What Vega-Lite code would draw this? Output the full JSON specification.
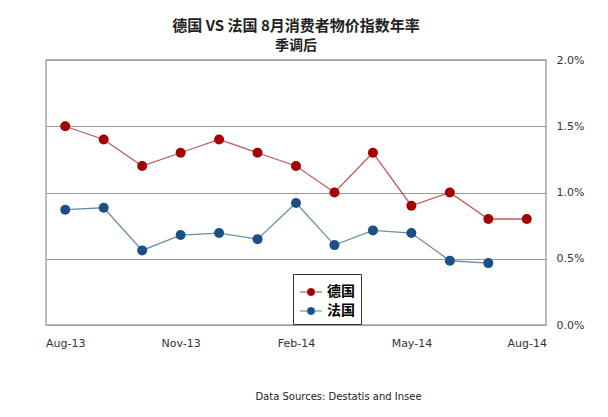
{
  "$schema": "https://vega.github.io/schema/vega-lite/v6.json",
  "width": 500,
  "height": 265,
  "padding": {"left": 45, "top": 19, "right": 5, "bottom": 5},
  "background": "white",
  "title": {
    "text": "德国 VS 法国 8月消费者物价指数年率",
    "subtitle": "季调后",
    "anchor": "middle",
    "font": "Noto Sans CJK SC",
    "fontSize": 15,
    "fontWeight": "bold",
    "color": "#222222",
    "subtitleFont": "Noto Sans CJK SC",
    "subtitleFontSize": 14,
    "subtitleFontWeight": "bold",
    "subtitleColor": "#222222",
    "subtitlePadding": 5,
    "offset": 1
  },
  "config": {
    "view": {"stroke": "#a8a8a8", "strokeWidth": 1.5},
    "axis": {"labelFont": "DejaVu Sans", "labelFontSize": 11, "labelColor": "#333333"}
  },
  "data": {
    "values": [
      {"month": "Aug-13", "country": "德国", "rate": 1.5},
      {"month": "Sep-13", "country": "德国", "rate": 1.4},
      {"month": "Oct-13", "country": "德国", "rate": 1.2},
      {"month": "Nov-13", "country": "德国", "rate": 1.3},
      {"month": "Dec-13", "country": "德国", "rate": 1.4},
      {"month": "Jan-14", "country": "德国", "rate": 1.3},
      {"month": "Feb-14", "country": "德国", "rate": 1.2},
      {"month": "Mar-14", "country": "德国", "rate": 1.0},
      {"month": "Apr-14", "country": "德国", "rate": 1.3},
      {"month": "May-14", "country": "德国", "rate": 0.9},
      {"month": "Jun-14", "country": "德国", "rate": 1.0},
      {"month": "Jul-14", "country": "德国", "rate": 0.8},
      {"month": "Aug-14", "country": "德国", "rate": 0.8},
      {"month": "Aug-13", "country": "法国", "rate": 0.87},
      {"month": "Sep-13", "country": "法国", "rate": 0.885},
      {"month": "Oct-13", "country": "法国", "rate": 0.563},
      {"month": "Nov-13", "country": "法国", "rate": 0.679},
      {"month": "Dec-13", "country": "法国", "rate": 0.694},
      {"month": "Jan-14", "country": "法国", "rate": 0.648},
      {"month": "Feb-14", "country": "法国", "rate": 0.921},
      {"month": "Mar-14", "country": "法国", "rate": 0.603},
      {"month": "Apr-14", "country": "法国", "rate": 0.714},
      {"month": "May-14", "country": "法国", "rate": 0.694},
      {"month": "Jun-14", "country": "法国", "rate": 0.485},
      {"month": "Jul-14", "country": "法国", "rate": 0.467}
    ]
  },
  "encoding": {
    "x": {
      "field": "month",
      "type": "ordinal",
      "sort": ["Aug-13","Sep-13","Oct-13","Nov-13","Dec-13","Jan-14","Feb-14","Mar-14","Apr-14","May-14","Jun-14","Jul-14","Aug-14"],
      "scale": {"type": "point", "padding": 0.5},
      "axis": {
        "title": "Data Sources: Destatis and Insee",
        "titleFont": "DejaVu Sans",
        "titleFontSize": 10,
        "titleFontWeight": "normal",
        "titleColor": "#222222",
        "titlePadding": 43,
        "titleX": 292,
        "titleAlign": "center",
        "labelAngle": 0,
        "labelPadding": 12,
        "ticks": false,
        "domain": false,
        "grid": false,
        "labelExpr": "indexof(['Aug-13','Nov-13','Feb-14','May-14','Aug-14'], datum.value) >= 0 ? datum.value : ''"
      }
    },
    "y": {
      "field": "rate",
      "type": "quantitative",
      "scale": {"domain": [0, 2]},
      "axis": {
        "orient": "right",
        "title": null,
        "values": [0, 0.5, 1, 1.5, 2],
        "labelExpr": "format(datum.value, '.1f') + '%'",
        "labelPadding": 10,
        "ticks": false,
        "domain": false,
        "grid": true,
        "gridColor": "#9a9a9a",
        "gridWidth": 1
      }
    },
    "color": {
      "field": "country",
      "type": "nominal",
      "scale": {"domain": ["德国", "法国"], "range": ["#a30000", "#1c4f86"]},
      "legend": {
        "title": null,
        "orient": "none",
        "legendX": 247,
        "legendY": 214,
        "fillColor": "white",
        "strokeColor": "#333333",
        "padding": 6,
        "labelFont": "Noto Sans CJK SC",
        "labelFontSize": 14,
        "labelFontWeight": "bold",
        "labelColor": "#000000",
        "symbolType": "M-1,0L1,0M-0.32,0A0.32,0.32,0,1,0,0.32,0A0.32,0.32,0,1,0,-0.32,0Z",
        "symbolSize": 480,
        "symbolStrokeWidth": 1.2,
        "symbolOpacity": 1,
        "rowPadding": 0,
        "labelOffset": 4,
        "encode": {
          "symbols": {
            "update": {
              "fill": {"scale": "color", "field": "value"},
              "stroke": {"scale": "color", "field": "value"},
              "opacity": {"value": 1},
              "fillOpacity": {"value": 1},
              "strokeOpacity": {"value": 0.75}
            }
          }
        }
      }
    }
  },
  "layer": [
    {"mark": {"type": "line", "strokeWidth": 1.3, "opacity": 0.65}},
    {"mark": {"type": "point", "filled": true, "size": 100, "opacity": 1}}
  ]
}
